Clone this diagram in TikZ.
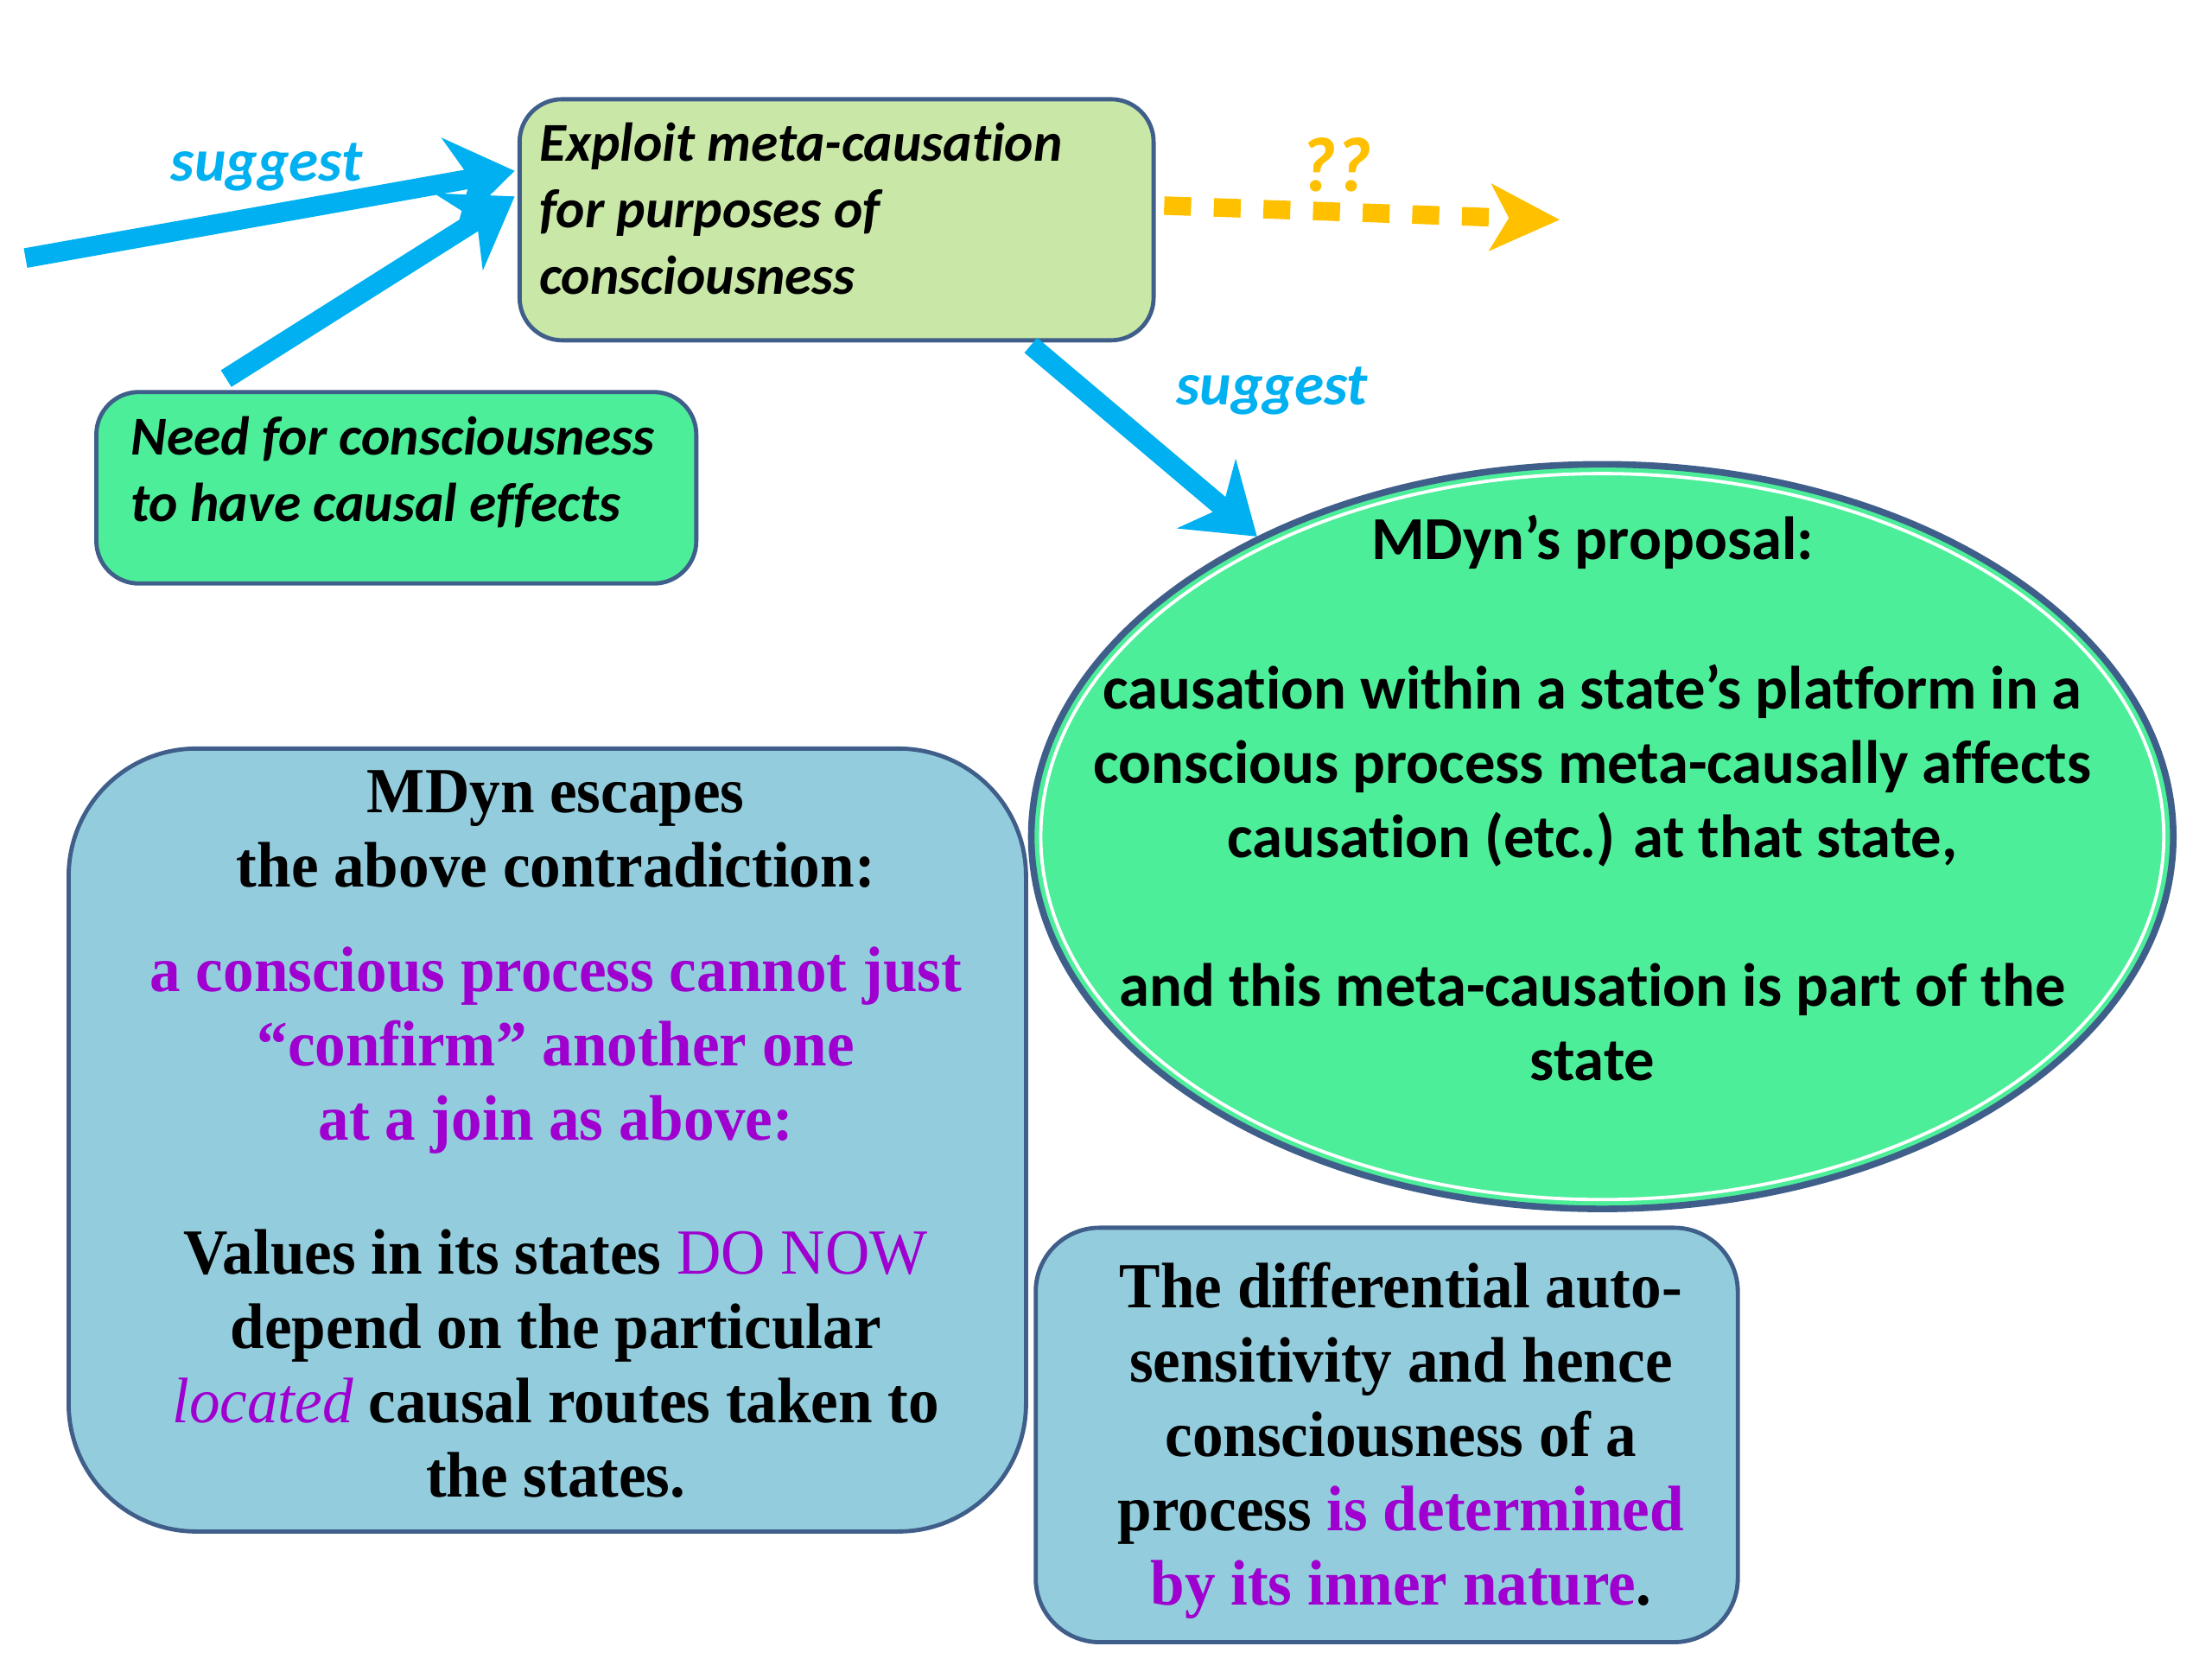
\documentclass[tikz,border=0pt]{standalone}
\usepackage{fontspec}
\setmainfont[FakeStretch=0.956]{Liberation Serif}
\newfontfamily\carl[Ligatures={NoCommon}]{Carlito}
\usetikzlibrary{shapes.geometric,arrows.meta,calc}
\definecolor{cyanA}{HTML}{00B0F0}
\definecolor{yelA}{HTML}{FFC000}
\definecolor{lgreen}{HTML}{C9E7A7}
\definecolor{bgreen}{HTML}{4DEE99}
\definecolor{lblue}{HTML}{93CDDD}
\definecolor{edge}{HTML}{3F5F8A}
\definecolor{purp}{HTML}{9F00CF}
\tikzset{
  boxA/.style={draw=edge, line width=1.4pt, rounded corners=0.5cm, inner sep=0pt},
  txtA/.style={inner sep=0pt},
  cyanarr/.style={draw=cyanA, line width=6.6pt, -{Stealth[length=22pt,width=30pt,inset=7pt]}},
  yelarr/.style={draw=yelA, line width=6.2pt, dash pattern=on 9pt off 7.6pt, -{Stealth[length=23pt,width=22pt,inset=6pt]}},
  lblA/.style={text=cyanA, font=\carl\bfseries\itshape\fontsize{20}{24}\selectfont, inner sep=0pt},
}
\begin{document}
\begin{tikzpicture}[x=0.0166667cm, y=-0.0166667cm]
\useasboundingbox (0,0) rectangle (1560,1170);

% ellipse
\node[ellipse, fill=bgreen, draw=edge, line width=2.2pt, minimum width=13.42cm, minimum height=8.75cm, inner sep=0pt] (prop) at (1130,590) {};
\draw[white, line width=1.1pt] (prop.center) ellipse [x radius=396, y radius=256];
\node[txtA, align=center, font=\carl\bfseries\fontsize{20.4}{24.9}\selectfont] (proptxt) at (1123,563)
  {MDyn’s proposal:\\[24.9pt]
   causation within a state’s platform in a\\
   conscious process meta-causally affects\\
   causation (etc.) at that state,\\[24.9pt]
   and this meta-causation is part of the\\
   state};

% top box
\node[boxA, fill=lgreen, minimum width=7.45cm, minimum height=2.833cm] (exploit) at (590,155) {};
\node[txtA, anchor=west, align=left, font=\carl\bfseries\itshape\fontsize{18.3}{22.3}\selectfont] (exploittxt) at (380,147)
  {Exploit meta-causation\\for purposes of\\consciousness};

% need box
\node[boxA, fill=bgreen, minimum width=7.05cm, minimum height=2.25cm] (need) at (279.5,344) {};
\node[txtA, anchor=west, align=left, font=\carl\bfseries\itshape\fontsize{18.3}{22.3}\selectfont] (needtxt) at (92,333)
  {Need for consciousness\\to have causal effects};

% left blue box
\node[boxA, rounded corners=1.5cm, fill=lblue, minimum width=11.25cm, minimum height=9.2cm] (esc) at (386,804) {};
\node[txtA, align=center, font=\bfseries\fontsize{21.5}{24.8}\selectfont] (esctxt) at (392,800)
  {MDyn escapes\\
   the above contradiction:\\[10.2pt]
   \textcolor{purp}{a conscious process cannot just}\\
   \textcolor{purp}{“confirm” another one}\\
   \textcolor{purp}{at a join as above:}\\[20.1pt]
   Values in its states \textcolor{purp}{\mdseries DO NOW}\\
   depend on the particular\\
   \textcolor{purp}{\mdseries\itshape located} causal routes taken to\\
   the states.};

% bottom right box
\node[boxA, rounded corners=0.75cm, fill=lblue, minimum width=8.25cm, minimum height=4.87cm] (diff) at (978,1012) {};
\node[txtA, align=center, font=\bfseries\fontsize{21.5}{24.8}\selectfont] (difftxt) at (988,1016)
  {The differential auto-\\
   sensitivity and hence\\
   consciousness of a\\
   process \textcolor{purp}{is determined}\\
   \textcolor{purp}{by its inner nature}.};

% arrows
\coordinate (s1) at (18,182);
\coordinate (qend) at (1100,155);
\draw[cyanarr] (s1) -- ($(exploit.north west)+(-2,52)$);
\draw[cyanarr] ($(need.north west)+(93,-8)$) -- ($(exploit.north west)+(-2,70)$);
\draw[cyanarr] ($(exploit.south west)+(362,2)$) -- (prop.139);
\draw[yelarr] ($(exploit.east)+(6,-10)$) -- (qend);

% labels
\node[lblA] (sug1) at (188,118) {suggest};
\node[lblA] (sug2) at (897,276) {suggest};
\node[lblA, text=yelA, font=\carl\bfseries\itshape\fontsize{26}{30}\selectfont] (qq) at (942,116) {??};
\end{tikzpicture}
\end{document}
